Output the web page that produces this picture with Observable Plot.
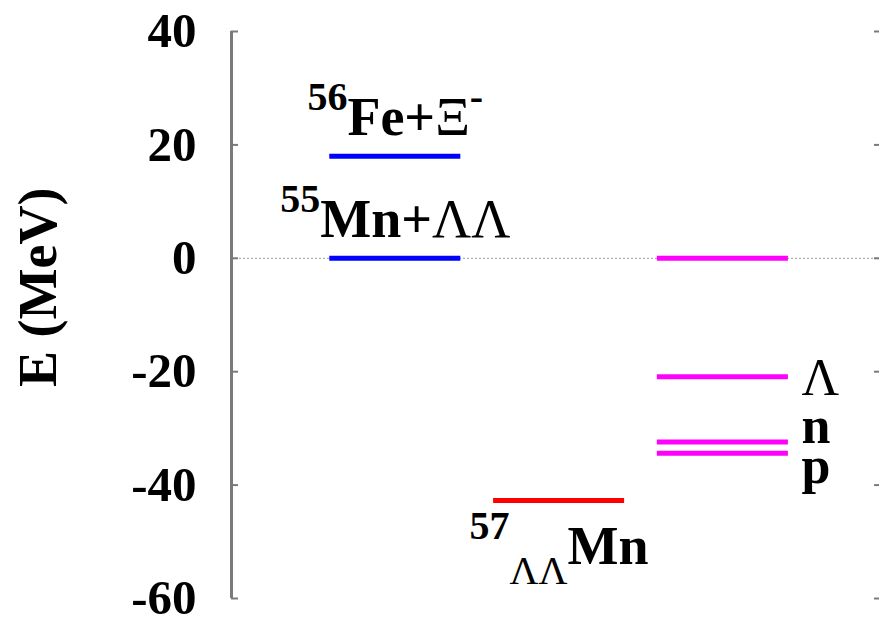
<!DOCTYPE html>
<html><head><meta charset="utf-8">
<script src="https://cdn.jsdelivr.net/npm/d3@7"></script>
<script src="https://cdn.jsdelivr.net/npm/@observablehq/plot@0.6"></script>
<style>body{margin:0;background:#fff}</style>
</head><body><div id="chart"></div>
<script>
// ---- data ----
const levelColumn = [1, 1, 2, 3, 3, 3, 3];
const levelEnergy = [18.0, 0, -42.7, 0, -20.9, -32.4, -34.4];
const levelGroup  = ["threshold", "threshold", "double", "single", "single", "single", "single"];

const stateLabelText   = ["^{56}Fe+Ξ^{-}", "^{55}Mn+ΛΛ", "^{57}_{ΛΛ}Mn"];
const stateLabelColumn = [1, 1, 2];
const stateLabelEnergy = [18.0, 0, -42.7];
const stateLabelSide   = ["above", "above", "below"];

const particleLabels = ["Λ", "n", "p"];
const particleEnergy = [-20.9, -32.4, -34.4];

const yTicks = [-60, -40, -20, 0, 20, 40];
const yLabel = "E (MeV)";

// ---- layout (code, not data) ----
const halfWidth = 0.4;
const mainSize = 54, scriptSize = 40, tickSize = 49;
const supRaise = 25, subDrop = 20;
const particleDy = {"Λ": 18, "n": 1, "p": 30};

const idx = d3.range(levelEnergy.length);
const lab = d3.range(stateLabelText.length);

const plot = Plot.plot({
  width: 880,
  height: 622,
  marginLeft: 231,
  marginRight: 2,
  marginTop: 31,
  marginBottom: 24,
  style: {fontFamily: "'Liberation Serif', 'Times New Roman', serif", fontWeight: "bold", background: "#fff", color: "#000"},
  x: {domain: [0, 3.95], axis: null},
  y: {domain: [-60, 40]},
  color: {domain: ["threshold", "double", "single"], range: ["#0000ff", "#ff0000", "#ff00ff"]},
  marks: [
    Plot.ruleY([0], {stroke: "#9a9a9a", strokeWidth: 1, strokeDasharray: "2,2"}),
    Plot.ruleX([0], {y1: -60, y2: 40, stroke: "#7a7a7a", strokeWidth: 3}),
    Plot.axisY(yTicks, {anchor: "left", tickSize: -7, tickPadding: 42, tickFormat: d => String(d),
      stroke: "#7a7a7a", strokeWidth: 2, fontSize: tickSize}),
    Plot.axisY(yTicks, {anchor: "right", tickSize: -5, tickFormat: () => "", stroke: "#7a7a7a", strokeWidth: 2}),
    Plot.ruleY(idx, {
      y: i => levelEnergy[i],
      x1: i => levelColumn[i] - halfWidth,
      x2: i => levelColumn[i] + halfWidth,
      stroke: i => levelGroup[i],
      strokeWidth: 5
    }),
    Plot.text(lab.filter(i => stateLabelSide[i] === "above"), {
      x: i => stateLabelColumn[i], y: i => stateLabelEnergy[i], text: i => stateLabelText[i],
      lineAnchor: "bottom", dy: -21, fontSize: mainSize
    }),
    Plot.text(lab.filter(i => stateLabelSide[i] === "below"), {
      x: i => stateLabelColumn[i], y: i => stateLabelEnergy[i], text: i => stateLabelText[i],
      lineAnchor: "bottom", dy: 64, fontSize: mainSize
    }),
    ...particleLabels.map((p, i) => Plot.text([i], {
      x: 3 + halfWidth, y: j => particleEnergy[j], text: j => particleLabels[j],
      textAnchor: "start", lineAnchor: "bottom", dx: 13, dy: particleDy[p], fontSize: mainSize - 2
    })),
    Plot.text([yLabel], {frameAnchor: "left", text: d => d, rotate: -90, dx: -193, dy: 72, fontSize: mainSize})
  ]
});

// rich text: superscripts, subscripts, non-bold Greek
const greek = /[\u0370-\u03FF]+|[^\u0370-\u03FF]+/g;
d3.select(plot).selectAll("text").each(function() {
  const el = d3.select(this);
  const s = el.text();
  if (!/[\^_]\{|[\u0370-\u03FF]/.test(s)) return;
  const parts = [];
  const re = /([\^_])\{([^}]*)\}|([^\^_]+)/g;
  let m;
  while ((m = re.exec(s))) parts.push(m[3] != null ? {t: m[3], k: "main"} : {t: m[2], k: m[1] === "^" ? "sup" : "sub"});
  el.text(null);
  let shift = 0;
  for (const p of parts) {
    const target = p.k === "sup" ? -supRaise : p.k === "sub" ? subDrop : 0;
    let first = true;
    for (const run of p.t.match(greek)) {
      const ts = el.append("tspan").text(run);
      if (first) { ts.attr("dy", target - shift); first = false; }
      if (p.k !== "main") ts.attr("font-size", scriptSize);
      if (/[\u0370-\u03FF]/.test(run)) ts.attr("font-weight", "normal");
    }
    shift = target;
  }
});

document.getElementById("chart").appendChild(plot);
</script>
</body></html>
